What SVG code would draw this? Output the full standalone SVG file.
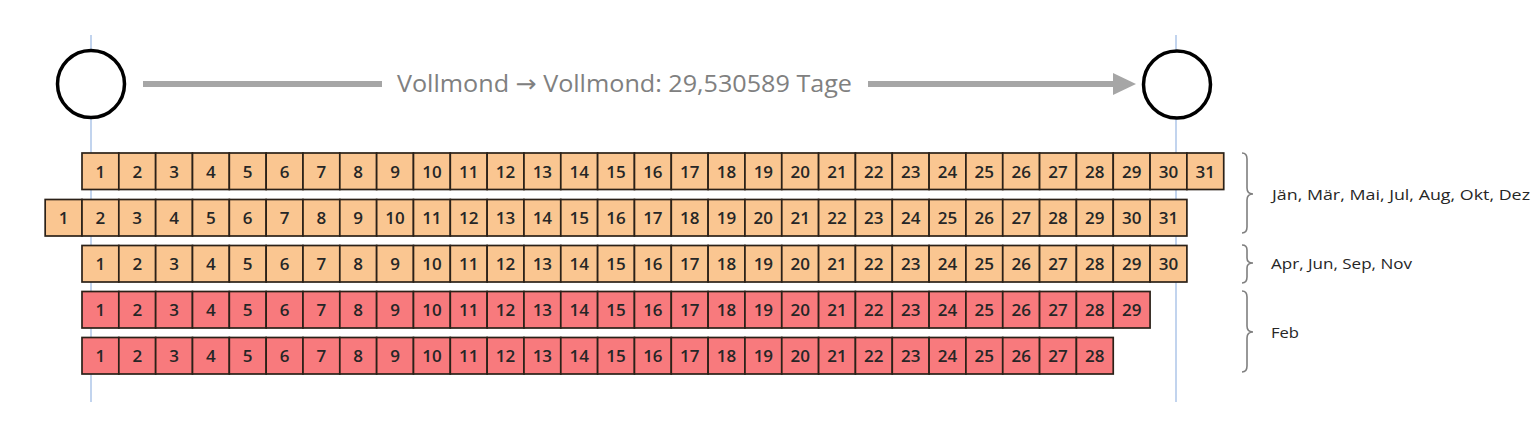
<svg xmlns="http://www.w3.org/2000/svg" width="1536" height="421" viewBox="0 0 1536 421">
<style>
.c{stroke:#2b2118;stroke-width:1.7}
.o{fill:#fac691}
.r{fill:#f87a7d}
.n{font-family:"Open Sans","Liberation Sans",sans-serif;font-size:17px;font-weight:600;fill:#262626;text-anchor:middle}
.lbl{font-family:"Open Sans","Liberation Sans",sans-serif;font-size:14.5px;fill:#262626}
.br{fill:none;stroke:#7f7f7f;stroke-width:1.6}
.guide{stroke:#aec6e8;stroke-width:1.5}
</style>
<defs>
<g id="cells31">
<rect x="0" y="0" width="36.83" height="36.5"/><rect x="36.83" y="0" width="36.83" height="36.5"/><rect x="73.66" y="0" width="36.83" height="36.5"/><rect x="110.49" y="0" width="36.83" height="36.5"/><rect x="147.32" y="0" width="36.83" height="36.5"/><rect x="184.15" y="0" width="36.83" height="36.5"/><rect x="220.98" y="0" width="36.83" height="36.5"/><rect x="257.81" y="0" width="36.83" height="36.5"/><rect x="294.64" y="0" width="36.83" height="36.5"/><rect x="331.47" y="0" width="36.83" height="36.5"/><rect x="368.3" y="0" width="36.83" height="36.5"/><rect x="405.13" y="0" width="36.83" height="36.5"/><rect x="441.96" y="0" width="36.83" height="36.5"/><rect x="478.79" y="0" width="36.83" height="36.5"/><rect x="515.62" y="0" width="36.83" height="36.5"/><rect x="552.45" y="0" width="36.83" height="36.5"/><rect x="589.28" y="0" width="36.83" height="36.5"/><rect x="626.11" y="0" width="36.83" height="36.5"/><rect x="662.94" y="0" width="36.83" height="36.5"/><rect x="699.77" y="0" width="36.83" height="36.5"/><rect x="736.6" y="0" width="36.83" height="36.5"/><rect x="773.43" y="0" width="36.83" height="36.5"/><rect x="810.26" y="0" width="36.83" height="36.5"/><rect x="847.09" y="0" width="36.83" height="36.5"/><rect x="883.92" y="0" width="36.83" height="36.5"/><rect x="920.75" y="0" width="36.83" height="36.5"/><rect x="957.58" y="0" width="36.83" height="36.5"/><rect x="994.41" y="0" width="36.83" height="36.5"/>
</g>
<g id="nums28">
<text x="18.42" y="24.5">1</text><text x="55.25" y="24.5">2</text><text x="92.08" y="24.5">3</text><text x="128.91" y="24.5">4</text><text x="165.74" y="24.5">5</text><text x="202.57" y="24.5">6</text><text x="239.4" y="24.5">7</text><text x="276.23" y="24.5">8</text><text x="313.06" y="24.5">9</text><text x="349.89" y="24.5">10</text><text x="386.72" y="24.5">11</text><text x="423.55" y="24.5">12</text><text x="460.38" y="24.5">13</text><text x="497.21" y="24.5">14</text><text x="534.04" y="24.5">15</text><text x="570.87" y="24.5">16</text><text x="607.7" y="24.5">17</text><text x="644.53" y="24.5">18</text><text x="681.36" y="24.5">19</text><text x="718.19" y="24.5">20</text><text x="755.02" y="24.5">21</text><text x="791.85" y="24.5">22</text><text x="828.68" y="24.5">23</text><text x="865.51" y="24.5">24</text><text x="902.34" y="24.5">25</text><text x="939.17" y="24.5">26</text><text x="976" y="24.5">27</text><text x="1012.83" y="24.5">28</text>
</g>
</defs>

<g id="guides">
<line class="guide" x1="91" y1="35" x2="91" y2="402"/>
<line class="guide" x1="1176" y1="35" x2="1176" y2="402"/>
</g>

<g id="connectors">
<line x1="143" y1="84" x2="382" y2="84" stroke="#a6a6a6" stroke-width="6"/>
<line x1="868" y1="84" x2="1116" y2="84" stroke="#a6a6a6" stroke-width="6"/>
<polygon points="1113,73 1136,84 1113,95" fill="#a6a6a6"/>
</g>

<g id="moon-start"><circle cx="91" cy="84" r="33.5" fill="#fff" stroke="#000" stroke-width="3.5"/></g>
<g id="moon-end"><circle cx="1177" cy="84.5" r="33.5" fill="#fff" stroke="#000" stroke-width="3.5"/></g>

<g id="title">
<text x="397" y="92" font-family="'Open Sans','Liberation Sans',sans-serif" font-size="24" fill="#808080" textLength="455" lengthAdjust="spacingAndGlyphs">Vollmond <tspan font-family="'DejaVu Sans',sans-serif" font-size="24">→</tspan> Vollmond: 29,530589 Tage</text>
</g>

<g id="row-31a" transform="translate(82,153)">
<use href="#cells31" class="o c"/>
<rect class="o c" x="1031.24" y="0" width="36.83" height="36.5"/><rect class="o c" x="1068.07" y="0" width="36.83" height="36.5"/><rect class="o c" x="1104.9" y="0" width="36.83" height="36.5"/>
<use href="#nums28" class="n"/>
<g class="n"><text x="1049.66" y="24.5">29</text><text x="1086.49" y="24.5">30</text><text x="1123.32" y="24.5">31</text></g>
</g>

<g id="row-31b" transform="translate(45.17,199.5)">
<use href="#cells31" class="o c"/>
<rect class="o c" x="1031.24" y="0" width="36.83" height="36.5"/><rect class="o c" x="1068.07" y="0" width="36.83" height="36.5"/><rect class="o c" x="1104.9" y="0" width="36.83" height="36.5"/>
<use href="#nums28" class="n"/>
<g class="n"><text x="1049.66" y="24.5">29</text><text x="1086.49" y="24.5">30</text><text x="1123.32" y="24.5">31</text></g>
</g>

<g id="row-30" transform="translate(82,245.5)">
<use href="#cells31" class="o c"/>
<rect class="o c" x="1031.24" y="0" width="36.83" height="36.5"/><rect class="o c" x="1068.07" y="0" width="36.83" height="36.5"/>
<use href="#nums28" class="n"/>
<g class="n"><text x="1049.66" y="24.5">29</text><text x="1086.49" y="24.5">30</text></g>
</g>

<g id="row-29" transform="translate(82,291.5)">
<use href="#cells31" class="r c"/>
<rect class="r c" x="1031.24" y="0" width="36.83" height="36.5"/>
<use href="#nums28" class="n"/>
<g class="n"><text x="1049.66" y="24.5">29</text></g>
</g>

<g id="row-28" transform="translate(82,337.5)">
<use href="#cells31" class="r c"/>
<use href="#nums28" class="n"/>
</g>

<g id="brace-31">
<path class="br" d="M1242,153 Q1247,153 1247,159 L1247,188 Q1247,194 1253,194 Q1247,194 1247,200 L1247,227 Q1247,233 1242,233"/>
<text class="lbl" x="1272" y="200" textLength="258" lengthAdjust="spacingAndGlyphs">Jän, Mär, Mai, Jul, Aug, Okt, Dez</text>
</g>
<g id="brace-30">
<path class="br" d="M1242,245 Q1247,245 1247,250 L1247,258 Q1247,263 1253,263 Q1247,263 1247,268 L1247,277 Q1247,283 1242,283"/>
<text class="lbl" x="1271" y="269" textLength="141" lengthAdjust="spacingAndGlyphs">Apr, Jun, Sep, Nov</text>
</g>
<g id="brace-feb">
<path class="br" d="M1242,291 Q1247,291 1247,297 L1247,326 Q1247,332 1253,332 Q1247,332 1247,338 L1247,366 Q1247,372 1242,372"/>
<text class="lbl" x="1271" y="338" textLength="28" lengthAdjust="spacingAndGlyphs">Feb</text>
</g>
</svg>
